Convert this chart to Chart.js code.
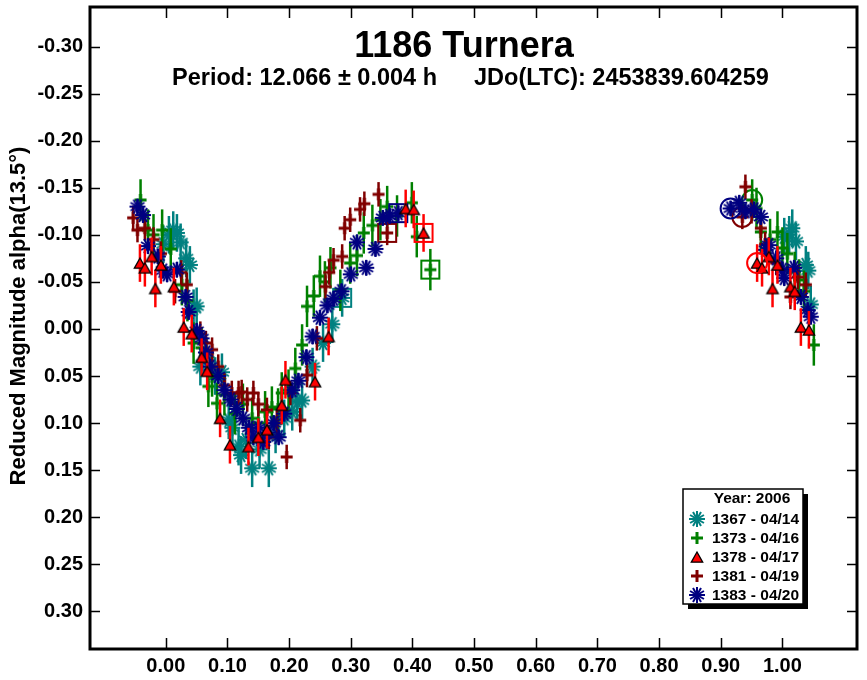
<!DOCTYPE html>
<html><head><meta charset="utf-8">
<script src="https://cdn.jsdelivr.net/npm/chart.js@4/dist/chart.umd.min.js"></script>
<style>html,body{margin:0;padding:0;background:#fff}canvas{display:block}</style>
</head><body>
<canvas id="c" width="867" height="680" style="width:867px;height:680px"></canvas>
<script>
// ---- text ----
const titleText = "1186 Turnera";
const periodText = "Period: 12.066 \u00b1 0.004 h";
const jdText = "JDo(LTC): 2453839.604259";
const yAxisLabel = "Reduced Magnitude alpha(13.5\u00b0)";
const legendTitle = "Year: 2006";
const seriesLabels = ["1367 - 04/14", "1373 - 04/16", "1378 - 04/17", "1381 - 04/19", "1383 - 04/20"];
const seriesColors = ["#008080", "#008000", "#ff0000", "#800000", "#000080"];
const xTickValues = [0.0, 0.1, 0.2, 0.3, 0.4, 0.5, 0.6, 0.7, 0.8, 0.9, 1.0];
const yTickValues = [-0.30, -0.25, -0.20, -0.15, -0.10, -0.05, 0.00, 0.05, 0.10, 0.15, 0.20, 0.25, 0.30];

// ---- data (phase, reduced magnitude, error) ----
const phase1367 = [1.003,1.011,1.016,1.022,1.038,1.042,1.046,
  -0.004,0.005,0.012,0.018,0.024,0.033,0.039,0.045,0.050,0.056,0.066,0.080,0.091,0.102,0.108,0.118,0.122,0.130,0.140,0.152,0.167,0.178,0.192,0.205,0.213,0.221,0.238,0.255,0.270,0.286];
const mag1367 = [-0.098,-0.100,-0.107,-0.093,-0.068,-0.062,-0.026,
  -0.090,-0.100,-0.105,-0.102,-0.092,-0.075,-0.068,-0.022,-0.024,0.040,0.030,0.050,0.046,0.097,0.105,0.125,0.134,0.118,0.148,0.128,0.148,0.112,0.095,0.088,0.077,0.076,0.040,0.015,-0.005,-0.033];
const err1367 = 0.02;

const phase1373 = [0.951,0.958,0.965,0.980,0.992,1.000,1.008,1.020,1.027,1.035,1.051,
  -0.041,-0.029,-0.020,-0.006,0.008,0.026,0.035,0.045,0.058,0.069,0.075,0.083,0.095,0.112,0.125,0.140,0.150,0.161,0.172,0.182,
  0.188,0.199,0.210,0.221,0.229,0.240,0.250,0.258,0.267,0.283,0.299,0.310,0.321,0.335,0.348,0.359,0.375,0.399,0.407,0.429];
const mag1373 = [-0.137,-0.128,-0.103,-0.095,-0.103,-0.086,-0.080,-0.060,-0.052,-0.040,0.017,
  -0.137,-0.105,-0.100,-0.105,-0.085,-0.047,-0.030,0.015,0.020,0.061,0.050,0.079,0.070,0.090,0.080,0.095,0.100,0.088,0.083,0.085,
  0.068,0.065,0.042,0.017,-0.024,-0.035,-0.056,-0.050,-0.065,-0.041,-0.070,-0.078,-0.102,-0.110,-0.116,-0.130,-0.120,-0.134,-0.098,-0.063];
const err1373 = 0.022;

const phase1378 = [0.959,0.967,0.978,0.984,0.992,1.013,1.020,1.030,1.043,
  -0.042,-0.034,-0.023,-0.017,-0.008,0.013,0.029,0.042,0.058,0.067,0.088,0.104,0.134,0.150,0.164,0.188,0.194,0.242,0.264,0.389,0.402,0.418];
const mag1378 = [-0.070,-0.065,-0.077,-0.043,-0.068,-0.045,-0.040,-0.002,0.001,
  -0.070,-0.065,-0.077,-0.043,-0.068,-0.045,-0.002,0.005,0.030,0.045,0.095,0.123,0.125,0.115,0.107,0.081,0.054,0.056,0.008,-0.128,-0.127,-0.102];
const err1378 = 0.02;

const phase1381 = [0.935,0.940,0.950,0.965,0.972,0.990,1.013,1.025,1.038,
  -0.053,-0.046,-0.034,-0.020,-0.008,0.015,0.025,0.034,0.056,0.065,0.075,0.085,0.095,0.107,0.118,0.123,0.132,0.142,0.150,0.164,0.167,
  0.180,0.196,0.202,0.218,0.229,0.245,0.259,0.265,0.272,0.286,0.290,0.299,0.315,0.322,0.345,0.359];
const mag1381 = [-0.119,-0.151,-0.125,-0.107,-0.090,-0.070,-0.034,-0.055,-0.047,
  -0.118,-0.105,-0.107,-0.095,-0.080,-0.040,-0.060,-0.047,0.005,0.015,0.022,0.040,0.060,0.068,0.068,0.067,0.075,0.068,0.080,0.086,0.115,
  0.100,0.136,0.068,0.097,0.049,0.010,-0.045,-0.060,-0.073,-0.077,-0.107,-0.116,-0.127,-0.133,-0.143,-0.102];
const err1381 = 0.013;

const phase1383 = [0.916,0.930,0.940,0.954,0.965,0.973,0.978,0.990,1.000,1.003,1.019,1.030,1.041,1.046,
  -0.046,-0.037,-0.029,-0.013,-0.005,0.002,0.018,0.032,0.037,0.050,0.058,0.065,0.072,0.085,0.095,0.105,0.115,0.125,0.135,0.142,
  0.150,0.158,0.165,0.175,0.183,0.192,0.205,0.215,0.228,0.238,0.250,0.262,0.272,0.285,0.300,0.310,0.325,0.340,0.352,0.363,0.377];
const mag1383 = [-0.128,-0.134,-0.125,-0.127,-0.119,-0.084,-0.089,-0.075,-0.063,-0.054,-0.065,-0.034,-0.020,-0.013,
  -0.130,-0.121,-0.088,-0.077,-0.062,-0.058,-0.063,-0.034,-0.018,0.002,0.010,0.025,0.040,0.050,0.065,0.075,0.085,0.095,0.105,0.115,
  0.105,0.120,0.110,0.100,0.115,0.090,0.065,0.055,0.030,0.008,-0.012,-0.025,-0.032,-0.040,-0.058,-0.092,-0.065,-0.085,-0.118,-0.120,-0.123];
const err1383 = 0.008;

// session start (circle) / end (square) markers: first & last point of each session
const markStart = [false, true, true, true, true];
const markEnd = [true, true, true, true, true];

// ---- marker images ----
function makeStar(color, r, lw, lines) {
  const c = document.createElement('canvas'); const s = 2 * r + 2; c.width = s; c.height = s;
  const g = c.getContext('2d'); g.strokeStyle = color; g.lineWidth = lw; g.translate(s / 2, s / 2);
  for (let i = 0; i < lines; i++) { const a = i * Math.PI / lines;
    g.beginPath(); g.moveTo(-r * Math.cos(a), -r * Math.sin(a)); g.lineTo(r * Math.cos(a), r * Math.sin(a)); g.stroke(); }
  return c;
}
function makeCross(color, r, lw) {
  const c = document.createElement('canvas'); const s = 2 * r + 2; c.width = s; c.height = s;
  const g = c.getContext('2d'); g.strokeStyle = color; g.lineWidth = lw; g.translate(s / 2, s / 2);
  g.beginPath(); g.moveTo(-r, 0); g.lineTo(r, 0); g.moveTo(0, -r); g.lineTo(0, r); g.stroke();
  return c;
}
function makeTri(color, r) {
  const c = document.createElement('canvas'); const s = 2 * r + 4; c.width = s; c.height = s;
  const g = c.getContext('2d'); g.translate(s / 2, s / 2 + 1);
  g.beginPath(); g.moveTo(0, -r); g.lineTo(r * 0.95, r * 0.7); g.lineTo(-r * 0.95, r * 0.7); g.closePath();
  g.fillStyle = color; g.fill(); g.strokeStyle = '#000'; g.lineWidth = 1.3; g.stroke();
  return c;
}
const markers = [
  makeStar(seriesColors[0], 8, 2, 6),
  makeCross(seriesColors[1], 6, 3),
  makeTri(seriesColors[2], 6),
  makeCross(seriesColors[3], 6, 3),
  makeStar(seriesColors[4], 8, 2, 6)
];

const phases = [phase1367, phase1373, phase1378, phase1381, phase1383];
const mags = [mag1367, mag1373, mag1378, mag1381, mag1383];
const errs = [err1367, err1373, err1378, err1381, err1383];
const drawOrder = [5, 4, 1, 3, 2];

const datasets = seriesLabels.map((lab, i) => ({
  label: lab,
  data: phases[i].map((p, k) => ({ x: p, y: mags[i][k] })),
  showLine: false,
  pointStyle: markers[i],
  pointRadius: 8,
  pointHoverRadius: 8,
  borderColor: seriesColors[i],
  backgroundColor: seriesColors[i],
  order: drawOrder[i]
}));

const FONT = '"Liberation Sans", Arial, sans-serif';

const decor = {
  id: 'decor',
  beforeDraw(chart) {
    const g = chart.ctx; g.save(); g.fillStyle = '#fff'; g.fillRect(0, 0, chart.width, chart.height); g.restore();
  },
  beforeDatasetDraw(chart, args) {
    const i = args.index, g = chart.ctx, xs = chart.scales.x, ys = chart.scales.y;
    g.save(); g.strokeStyle = seriesColors[i]; g.lineWidth = 2.5;
    phases[i].forEach((p, k) => {
      const px = xs.getPixelForValue(p);
      g.beginPath();
      g.moveTo(px, ys.getPixelForValue(mags[i][k] - errs[i]));
      g.lineTo(px, ys.getPixelForValue(mags[i][k] + errs[i]));
      g.stroke();
    });
    g.restore();
  },
  afterDatasetDraw(chart, args) {
    const i = args.index, g = chart.ctx, xs = chart.scales.x, ys = chart.scales.y;
    const n = phases[i].length;
    g.save(); g.strokeStyle = seriesColors[i]; g.lineWidth = 2;
    if (markStart[i]) {
      g.beginPath();
      g.arc(xs.getPixelForValue(phases[i][0]), ys.getPixelForValue(mags[i][0]), 10, 0, 2 * Math.PI);
      g.stroke();
    }
    if (markEnd[i]) {
      const px = xs.getPixelForValue(phases[i][n - 1]), py = ys.getPixelForValue(mags[i][n - 1]);
      g.strokeRect(px - 9, py - 9, 18, 18);
    }
    g.restore();
  },
  afterDraw(chart) {
    const g = chart.ctx, a = chart.chartArea, xs = chart.scales.x, ys = chart.scales.y;
    g.save();
    // inward ticks
    g.strokeStyle = '#000'; g.lineWidth = 1.5;
    xTickValues.forEach(v => {
      const px = Math.round(xs.getPixelForValue(v)) + 0.5;
      g.beginPath(); g.moveTo(px, a.bottom); g.lineTo(px, a.bottom - 11); g.moveTo(px, a.top); g.lineTo(px, a.top + 11); g.stroke();
    });
    yTickValues.forEach(v => {
      const py = Math.round(ys.getPixelForValue(v)) + 0.5;
      g.beginPath(); g.moveTo(a.left, py); g.lineTo(a.left + 10, py); g.moveTo(a.right, py); g.lineTo(a.right - 10, py); g.stroke();
    });
    // frame
    g.lineWidth = 3; g.strokeRect(a.left, a.top, a.right - a.left, a.bottom - a.top);
    // titles
    g.fillStyle = '#000'; g.textBaseline = 'alphabetic';
    g.font = 'bold 36px ' + FONT; g.textAlign = 'center';
    g.fillText(titleText, 464, 57);
    g.font = 'bold 23.5px ' + FONT; g.textAlign = 'left';
    g.fillText(periodText, 172, 85);
    g.fillText(jdText, 474, 85);
    // y label
    g.save(); g.translate(25, 316); g.rotate(-Math.PI / 2);
    g.font = 'bold 22px ' + FONT; g.textAlign = 'center';
    g.fillText(yAxisLabel, 0, 0);
    g.restore();
    // legend
    const lx = 683, ly = 489, lw = 120, lh = 115;
    g.fillStyle = '#000'; g.fillRect(lx + 5, ly + 5, lw, lh);
    g.fillStyle = '#fff'; g.fillRect(lx, ly, lw, lh);
    g.strokeStyle = '#000'; g.lineWidth = 1.5; g.strokeRect(lx, ly, lw, lh);
    g.fillStyle = '#000'; g.font = 'bold 15.5px ' + FONT; g.textBaseline = 'middle';
    g.textAlign = 'center'; g.fillText(legendTitle, 752, 499);
    g.textAlign = 'left';
    seriesLabels.forEach((lab, i) => {
      const yy = 519 + i * 19;
      const m = markers[i];
      g.drawImage(m, 697 - m.width / 2, yy - m.height / 2);
      g.fillStyle = '#000';
      g.fillText(lab, 712, yy + 1);
    });
    g.restore();
  }
};

new Chart(document.getElementById('c'), {
  type: 'scatter',
  data: { datasets },
  plugins: [decor],
  options: {
    responsive: false,
    animation: false,
    devicePixelRatio: 1,
    layout: { autoPadding: false, padding: { left: 0, top: 7, right: 10, bottom: 0 } },
    plugins: { legend: { display: false }, tooltip: { enabled: false }, title: { display: false } },
    scales: {
      x: {
        type: 'linear', min: -0.123, max: 1.121,
        grid: { display: false, drawTicks: false },
        border: { display: false },
        afterBuildTicks: s => { s.ticks = xTickValues.map(v => ({ value: v })); },
        afterFit: s => { s.height = 31; s.paddingLeft = 0; s.paddingRight = 0; },
        ticks: { padding: 5, color: '#000', font: { family: FONT, size: 20, weight: 'bold' }, maxRotation: 0, autoSkip: false,
          callback: v => Number(v).toFixed(2) }
      },
      y: {
        type: 'linear', min: -0.342, max: 0.340, reverse: true,
        grid: { display: false, drawTicks: false },
        border: { display: false },
        afterBuildTicks: s => { s.ticks = yTickValues.map(v => ({ value: v })); },
        afterFit: s => { s.width = 90; s.paddingTop = 0; s.paddingBottom = 0; },
        ticks: { padding: 7, color: '#000', font: { family: FONT, size: 20, weight: 'bold' }, autoSkip: false,
          callback: v => { const t = Number(v).toFixed(2); return t === '-0.00' ? '0.00' : t; } }
      }
    }
  }
});
</script>
</body></html>
